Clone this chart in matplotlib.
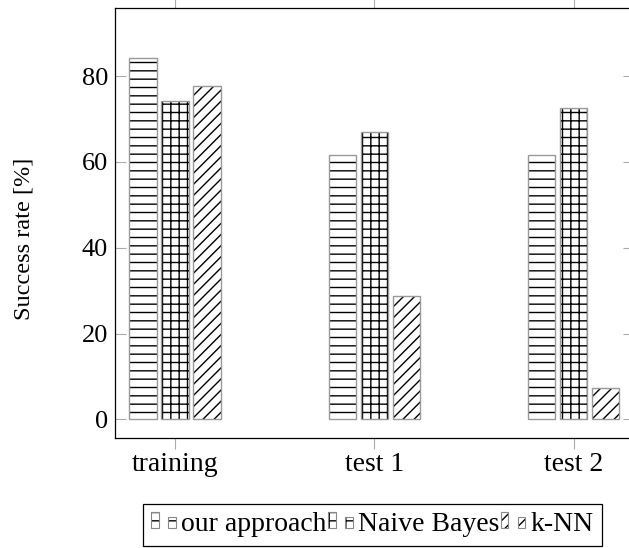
import numpy as np
import matplotlib.pyplot as plt
from matplotlib.patches import Rectangle
from matplotlib.legend_handler import HandlerBase

plt.rcParams['font.family'] = ['Liberation Serif', 'DejaVu Serif']
plt.rcParams['font.size'] = 20

categories = ['training', 'test 1', 'test 2']
series = ['our approach', 'Naive Bayes', 'k-NN']
ours = [84.2, 61.6, 61.6]
bayes = [74.2, 67.0, 72.7]
knn = [77.6, 28.8, 7.2]
values = [ours, bayes, knn]
hatches = ['--', '++', '///']
yticks = [0, 20, 40, 60, 80]

W, H = 629, 548
fig = plt.figure(figsize=(W / 100, H / 100), dpi=100)
ax = fig.add_axes([115 / W, (H - 438) / H, (633.5 - 115) / W, (438 - 8) / H])

x = np.arange(len(categories))
off = 0.1606
bw = 0.137
for i, (vals, hat) in enumerate(zip(values, hatches)):
    pos = x + (i - 1) * off
    ax.bar(pos, vals, bw, color='white', edgecolor='black', hatch=hat, linewidth=0)
    ax.bar(pos, vals, bw, color='none', edgecolor='#999999', linewidth=1.0)

ax.set_xlim(-0.301, 2.301)
ax.set_ylim(-4.36, 95.9)
ax.set_xticks(x)
ax.set_xticklabels(categories)
ax.set_yticks(yticks)
ax.tick_params(axis='x', direction='out', length=8, width=0.8, color='#aaaaaa',
               top=True, pad=2, labelsize=20)
ax.tick_params(axis='y', direction='in', length=8, width=0.8, color='#aaaaaa',
               right=True, pad=5, labelsize=19)
for s in ax.spines.values():
    s.set_linewidth(0.9)
    s.set_color('black')
ax.set_ylabel('Success rate [%]', fontsize=17.5)
ax.yaxis.set_label_coords(-0.155, 0.463)


class TwoBars(HandlerBase):
    # pgfplots style ybar legend image: two small bars of different height
    def create_artists(self, legend, orig, xd, yd, w, h, fs, trans):
        out = []
        hat = orig.get_hatch()
        dy = 0.08 * h
        for x0, frac in [(0.0, 1.0), (0.68, 0.72)]:
            r = Rectangle((-xd + x0 * w, -yd + dy), 0.3 * w, frac * h, facecolor='white',
                          edgecolor='black', hatch=hat, linewidth=0, transform=trans)
            e = Rectangle((-xd + x0 * w, -yd + dy), 0.3 * w, frac * h, facecolor='none',
                          edgecolor='#888888', linewidth=0.8, transform=trans)
            out += [r, e]
        return out


handles = [Rectangle((0, 0), 1, 1, hatch=h) for h in hatches]
leg = fig.legend(handles, series, loc='upper left', ncol=3,
                 bbox_to_anchor=(143 / W, (H - 504) / H),
                 handler_map={Rectangle: TwoBars()},
                 handlelength=0.9, handleheight=0.5, handletextpad=0.18,
                 columnspacing=0.05, borderpad=0.3, borderaxespad=0,
                 fancybox=False, framealpha=1, edgecolor='black', fontsize=20)
leg.get_frame().set_linewidth(0.9)

fig.savefig('out.png', dpi=100)
